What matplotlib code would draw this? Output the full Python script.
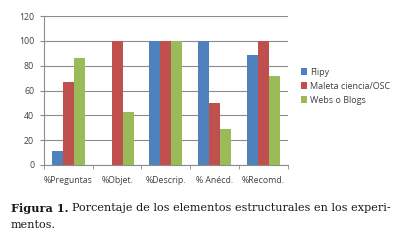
import matplotlib
matplotlib.use('Agg')
import matplotlib.pyplot as plt
import numpy as np

categories = ['%Preguntas', '%Objet.', '%Descrip.', '% Anécd.', '%Recomd.']
flipy = [11, 0, 100, 100, 89]
maleta = [67, 100, 100, 50, 100]
webs = [86, 43, 100, 29, 72]
series_names = ['Flipy', 'Maleta ciencia/OSC', 'Webs o Blogs']
colors = ['#4F81BD', '#C0504D', '#9BBB59']

def main():
    fig = plt.figure(figsize=(4.03, 2.43), dpi=100)
    ax = fig.add_axes([0.109, 0.321, 0.605, 0.613])

    x = np.arange(len(categories))
    w = 0.225
    for i, vals in enumerate([flipy, maleta, webs]):
        ax.bar(x + (i - 1) * w, vals, w, color=colors[i], label=series_names[i], zorder=3)

    ax.set_xlim(-0.5, len(categories) - 0.5)
    ax.set_ylim(0, 120)
    ax.set_yticks(range(0, 121, 20))
    ax.yaxis.grid(True, color='#8c8c8c', linewidth=0.8, zorder=0)

    # category labels centred, tick marks on boundaries
    ax.set_xticks(x)
    ax.set_xticklabels(categories)
    ax.set_xticks(np.arange(-0.5, len(categories), 1), minor=True)
    ax.tick_params(axis='x', which='major', length=0, pad=8)
    ax.tick_params(axis='x', which='minor', length=3, color='#8c8c8c')
    ax.tick_params(axis='y', length=3, color='#8c8c8c', pad=4)
    for lab in ax.get_xticklabels() + ax.get_yticklabels():
        lab.set_fontsize(6.3)
        lab.set_fontfamily('Open Sans')
        lab.set_color('#404040')

    for s in ['top', 'right']:
        ax.spines[s].set_visible(False)
    for s in ['left', 'bottom']:
        ax.spines[s].set_color('#8c8c8c')
        ax.spines[s].set_linewidth(0.8)

    leg = ax.legend(loc='center left', bbox_to_anchor=(1.02, 0.53), frameon=False,
                    prop={'family': 'Open Sans', 'size': 6.5}, handlelength=0.7,
                    handleheight=0.7, handletextpad=0.3, labelspacing=0.55)
    for t in leg.get_texts():
        t.set_color('#404040')

    # caption: bold label, then normal text placed right after it
    fs = 8.15
    bold = fig.text(0.027, 0.144, 'Figura 1.', fontsize=fs, fontweight='bold',
                    family='serif', va='center', color='#1a1a1a')
    fig.canvas.draw()
    bb = bold.get_window_extent().transformed(fig.transFigure.inverted())
    fig.text(bb.x1 + 0.008, 0.144, 'Porcentaje de los elementos estructurales en los experi-',
             fontsize=fs, family='serif', va='center', color='#1a1a1a')
    fig.text(0.027, 0.074, 'mentos.', fontsize=fs, family='serif', va='center', color='#1a1a1a')

    fig.savefig('out.png', dpi=100)
    plt.close(fig)

if __name__ == '__main__':
    main()
